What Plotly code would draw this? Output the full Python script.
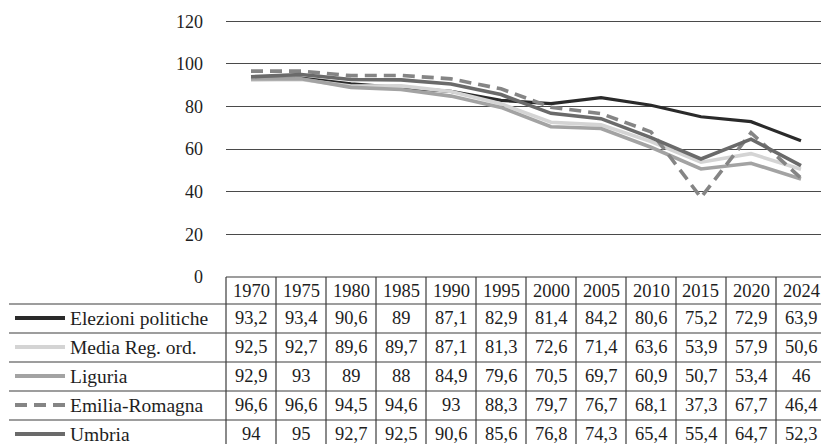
import plotly.graph_objects as go

# ---- data ----
years = ["1970", "1975", "1980", "1985", "1990", "1995", "2000", "2005", "2010", "2015", "2020", "2024"]
series_names = ["Elezioni politiche", "Media Reg. ord.", "Liguria", "Emilia-Romagna", "Umbria"]
elezioni_politiche = [93.2, 93.4, 90.6, 89, 87.1, 82.9, 81.4, 84.2, 80.6, 75.2, 72.9, 63.9]
media_reg_ord = [92.5, 92.7, 89.6, 89.7, 87.1, 81.3, 72.6, 71.4, 63.6, 53.9, 57.9, 50.6]
liguria = [92.9, 93, 89, 88, 84.9, 79.6, 70.5, 69.7, 60.9, 50.7, 53.4, 46]
emilia_romagna = [96.6, 96.6, 94.5, 94.6, 93, 88.3, 79.7, 76.7, 68.1, 37.3, 67.7, 46.4]
umbria = [94, 95, 92.7, 92.5, 90.6, 85.6, 76.8, 74.3, 65.4, 55.4, 64.7, 52.3]
y_ticks = [0, 20, 40, 60, 80, 100, 120]

values = [elezioni_politiche, media_reg_ord, liguria, emilia_romagna, umbria]

# ---- styles ----
colors = ["#2a2a2a", "#d4d4d4", "#a3a3a3", "#858585", "#6a6a6a"]
dashes = ["solid", "solid", "solid", "12px,7px", "solid"]
widths = [3.2, 3.6, 3.6, 3.6, 3.6]
FONT = "Liberation Serif, Times New Roman, serif"
TXT = "#1e1e1e"
LINEC = "#3c3c3c"

W, H = 821, 444


def xr(px):
    return px / W


def yr(py):
    return 1 - py / H


# x axis: column width 50 px, first column left edge at 226 px
COL_W = 50.0
X_LEFT = 226
X_DOM0 = xr(X_LEFT)
X_RANGE = [-0.5, -0.5 + (W - X_LEFT) / COL_W]
# y axis: 120 at 21.3 px, 0 at 277 px
Y0_PX, Y120_PX = 277.0, 21.3
PPU = (Y0_PX - Y120_PX) / 120
Y_MAX = 120.6
Y_DOM = [yr(Y0_PX), yr(Y0_PX - Y_MAX * PPU)]


def xp(v):
    """data index -> paper x using the axis scale"""
    return X_DOM0 + (v - X_RANGE[0]) / (X_RANGE[1] - X_RANGE[0]) * (1 - X_DOM0)


fig = go.Figure()
xs = list(range(len(years)))
for name, vals, c, d, w in zip(series_names, values, colors, dashes, widths):
    fig.add_trace(go.Scatter(x=xs, y=vals, mode="lines", name=name,
                             line=dict(color=c, dash=d, width=w), showlegend=False))

shapes = []
annotations = []

# table geometry (px)
header_top = 277
header_bot = 304
row_h = 29
row_tops = [header_bot + i * row_h for i in range(len(series_names))]

# horizontal lines
shapes.append(dict(type="line", xref="paper", yref="paper", x0=xp(-0.5), x1=1.02,
                   y0=yr(header_top), y1=yr(header_top), line=dict(color=LINEC, width=1.2)))
for i in range(len(series_names) + 1):
    y = header_bot + i * row_h
    shapes.append(dict(type="line", xref="paper", yref="paper", x0=xr(9), x1=1.02,
                       y0=yr(y), y1=yr(y), line=dict(color=LINEC, width=1.2)))
# vertical lines
for k in range(len(years) + 1):
    xv = xp(k - 0.5)
    if xv > 1.0:
        continue
    shapes.append(dict(type="line", xref="paper", yref="paper", x0=xv, x1=xv,
                       y0=yr(header_top), y1=-0.05, line=dict(color=LINEC, width=1.2)))

# header text
for i, yrs in enumerate(years):
    annotations.append(dict(text=yrs, xref="paper", yref="paper", x=xp(i),
                            y=yr((header_top + header_bot) / 2), xanchor="center", yanchor="middle",
                            showarrow=False, font=dict(family=FONT, size=18.5, color=TXT)))


def fmt(v):
    return f"{v:g}".replace(".", ",")


for r, (name, vals) in enumerate(zip(series_names, values)):
    yc = row_tops[r] + row_h / 2 - 0.5
    # legend key
    shapes.append(dict(type="line", xref="paper", yref="paper", x0=xr(15), x1=xr(65),
                       y0=yr(yc), y1=yr(yc),
                       line=dict(color=colors[r], width=4, dash=dashes[r])))
    annotations.append(dict(text=name, xref="paper", yref="paper", x=xr(68), y=yr(yc),
                            xanchor="left", yanchor="middle", showarrow=False,
                            font=dict(family=FONT, size=19.5, color=TXT)))
    for i, v in enumerate(vals):
        annotations.append(dict(text=fmt(v), xref="paper", yref="paper", x=xp(i), y=yr(yc),
                                xanchor="center", yanchor="middle", showarrow=False,
                                font=dict(family=FONT, size=18.5, color=TXT)))

fig.update_layout(
    width=W, height=H,
    margin=dict(l=0, r=0, t=0, b=0, autoexpand=False),
    paper_bgcolor="white", plot_bgcolor="white",
    font=dict(family=FONT, color=TXT),
    xaxis=dict(domain=[X_DOM0, 1], range=X_RANGE, showticklabels=False, showgrid=False,
               zeroline=False, showline=False, ticks="", automargin=False),
    yaxis=dict(domain=Y_DOM, range=[0, Y_MAX], tickvals=y_ticks, ticktext=[str(t) for t in y_ticks],
               showgrid=True, gridcolor="#4a4a4a", gridwidth=1, zeroline=False, showline=False,
               ticks="", ticklabelstandoff=22, automargin=False,
               tickfont=dict(family=FONT, size=18, color=TXT)),
    shapes=shapes,
    annotations=annotations,
    showlegend=False,
    hovermode=False,
)

fig.write_html("out.html", config={"displayModeBar": False, "staticPlot": True},
               post_script="document.body.style.margin='0';document.body.style.overflow='hidden';")
